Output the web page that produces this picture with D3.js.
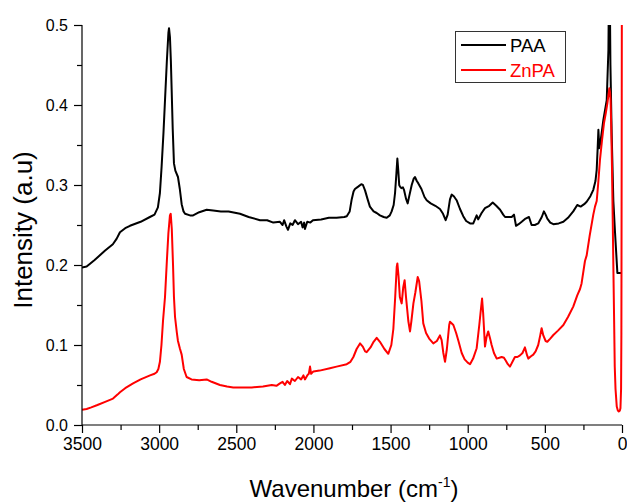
<!DOCTYPE html>
<html>
<head>
<meta charset="utf-8">
<script src="https://cdn.jsdelivr.net/npm/d3@7"></script>
<style>
    body { margin: 0; background: #fff; }
    svg { display: block; font-family: Arial, "Liberation Sans", sans-serif; }
</style>
</head>
<body>
<svg width="627" height="502"></svg>
<script>
//////////////////////   DATA    //////////////////////

var seriesNames = ['PAA', 'ZnPA'];

var paaWn = [3500, 3470, 3420, 3350, 3300, 3275, 3254, 3220, 3189, 3120, 3060, 3030, 3008, 2995, 2984, 2972,
    2962, 2950, 2940, 2936, 2930, 2924, 2919, 2912, 2904, 2895, 2878, 2866, 2854, 2842, 2832, 2800, 2780, 2740,
    2692, 2650, 2600, 2550, 2476, 2420, 2346, 2300, 2260, 2217, 2200, 2190, 2175, 2165, 2150, 2135, 2120, 2100,
    2080, 2070, 2060, 2055, 2040, 2020, 2003, 1950, 1900, 1850, 1800, 1784, 1765, 1752, 1740, 1731, 1710, 1690,
    1679, 1665, 1650, 1634, 1610, 1590, 1569, 1545, 1525, 1505, 1493, 1480, 1471, 1462, 1456, 1450, 1444, 1439,
    1430, 1420, 1413, 1400, 1389, 1378, 1363, 1350, 1342, 1330, 1320, 1300, 1280, 1266, 1240, 1210, 1180, 1160,
    1143, 1130, 1115, 1104, 1090, 1072, 1050, 1029, 1010, 985, 964, 942, 932, 910, 888, 860, 838, 815, 790, 770,
    758, 730, 715, 700, 687, 670, 650, 625, 603, 586, 565, 543, 520, 506, 495, 484, 465, 445, 410, 380, 350, 316,
    290, 268, 245, 229, 205, 186, 172, 164, 158, 153, 147, 138, 121, 99, 88, 84, 80, 75, 67, 56, 45, 30, 8, 3];
var paaVal = [0.197, 0.198, 0.206, 0.218, 0.226, 0.233, 0.241, 0.246, 0.249, 0.254, 0.260, 0.263, 0.272, 0.290,
    0.323, 0.365, 0.406, 0.455, 0.490, 0.496, 0.485, 0.455, 0.420, 0.370, 0.327, 0.318, 0.310, 0.295, 0.276, 0.267,
    0.264, 0.262, 0.262, 0.266, 0.269, 0.268, 0.267, 0.267, 0.264, 0.260, 0.256, 0.256, 0.253, 0.254, 0.250, 0.256,
    0.248, 0.244, 0.252, 0.250, 0.256, 0.251, 0.254, 0.247, 0.253, 0.245, 0.254, 0.253, 0.256, 0.257, 0.259, 0.259,
    0.260, 0.261, 0.267, 0.282, 0.292, 0.295, 0.298, 0.301, 0.300, 0.293, 0.283, 0.273, 0.267, 0.265, 0.262, 0.260,
    0.259, 0.262, 0.267, 0.275, 0.290, 0.315, 0.333, 0.318, 0.300, 0.298, 0.296, 0.297, 0.294, 0.283, 0.277, 0.287,
    0.300, 0.308, 0.310, 0.305, 0.302, 0.295, 0.285, 0.281, 0.277, 0.274, 0.270, 0.264, 0.256, 0.263, 0.282, 0.288,
    0.286, 0.281, 0.270, 0.261, 0.255, 0.252, 0.252, 0.262, 0.257, 0.265, 0.271, 0.274, 0.278, 0.274, 0.269, 0.263,
    0.260, 0.260, 0.260, 0.263, 0.249, 0.251, 0.254, 0.258, 0.260, 0.250, 0.250, 0.252, 0.260, 0.267, 0.263, 0.258,
    0.253, 0.251, 0.252, 0.254, 0.259, 0.267, 0.275, 0.273, 0.276, 0.279, 0.286, 0.294, 0.305, 0.319, 0.345, 0.369,
    0.346, 0.356, 0.381, 0.406, 0.469, 0.56, 0.56, 0.45, 0.365, 0.28, 0.24, 0.190, 0.190, 0.190];

var znpaWn = [3500, 3470, 3440, 3400, 3350, 3299, 3270, 3254, 3220, 3169, 3120, 3059, 3030, 3016, 3005, 2995,
    2985, 2975, 2962, 2950, 2940, 2930, 2925, 2918, 2910, 2904, 2897, 2885, 2878, 2866, 2854, 2840, 2822, 2790,
    2740, 2692, 2660, 2606, 2560, 2520, 2450, 2400, 2327, 2270, 2240, 2217, 2200, 2185, 2170, 2152, 2140, 2120,
    2100, 2080, 2065, 2055, 2040, 2030, 2022, 2015, 2000, 1960, 1893, 1850, 1784, 1760, 1741, 1720, 1698, 1680,
    1665, 1655, 1630, 1610, 1590, 1569, 1540, 1515, 1495, 1482, 1470, 1460, 1456, 1448, 1440, 1428, 1418, 1409,
    1400, 1385, 1374, 1365, 1352, 1340, 1324, 1315, 1300, 1288, 1270, 1250, 1223, 1200, 1180, 1169, 1158, 1147,
    1135, 1120, 1115, 1093, 1075, 1060, 1039, 1020, 1000, 985, 965, 942, 925, 917, 907, 900, 890, 888, 878, 867,
    855, 845, 830, 812, 795, 780, 765, 752, 740, 726, 710, 694, 678, 661, 645, 629, 615, 607, 590, 575, 560, 543,
    530, 521, 510, 495, 484, 465, 445, 415, 380, 350, 316, 290, 272, 262, 240, 229, 210, 186, 175, 164, 155, 143,
    130, 117, 105, 95, 88, 82, 77, 74, 70, 65, 60, 56, 51, 47, 42, 34, 27, 21, 14, 10, 6, 4, 2, 0];
var znpaVal = [0.019, 0.020, 0.022, 0.025, 0.029, 0.033, 0.038, 0.041, 0.046, 0.052, 0.057, 0.062, 0.064, 0.066,
    0.070, 0.079, 0.100, 0.130, 0.160, 0.205, 0.240, 0.262, 0.264, 0.245, 0.200, 0.160, 0.135, 0.115, 0.105, 0.096,
    0.088, 0.070, 0.060, 0.057, 0.056, 0.057, 0.054, 0.050, 0.048, 0.047, 0.047, 0.047, 0.048, 0.050, 0.049, 0.052,
    0.054, 0.050, 0.055, 0.051, 0.058, 0.055, 0.060, 0.057, 0.062, 0.057, 0.062, 0.064, 0.073, 0.064, 0.067, 0.068,
    0.071, 0.073, 0.076, 0.079, 0.085, 0.095, 0.102, 0.098, 0.092, 0.091, 0.097, 0.104, 0.109, 0.104, 0.095, 0.089,
    0.100, 0.120, 0.160, 0.198, 0.202, 0.185, 0.160, 0.152, 0.172, 0.181, 0.160, 0.130, 0.117, 0.130, 0.152, 0.165,
    0.185, 0.180, 0.155, 0.127, 0.115, 0.108, 0.102, 0.105, 0.112, 0.106, 0.090, 0.079, 0.095, 0.125, 0.129, 0.125,
    0.115, 0.105, 0.090, 0.082, 0.078, 0.076, 0.083, 0.096, 0.125, 0.140, 0.158, 0.140, 0.105, 0.098, 0.110, 0.117,
    0.108, 0.100, 0.090, 0.083, 0.084, 0.085, 0.084, 0.080, 0.076, 0.073, 0.079, 0.085, 0.085, 0.087, 0.090, 0.097,
    0.087, 0.083, 0.086, 0.088, 0.092, 0.100, 0.112, 0.121, 0.112, 0.105, 0.104, 0.108, 0.1125, 0.118, 0.125, 0.135,
    0.148, 0.162, 0.170, 0.177, 0.205, 0.212, 0.236, 0.263, 0.273, 0.280, 0.300, 0.331, 0.355, 0.377, 0.390, 0.402,
    0.412, 0.421, 0.415, 0.406, 0.375, 0.323, 0.255, 0.198, 0.130, 0.073, 0.045, 0.023, 0.018, 0.017, 0.018, 0.021,
    0.045, 0.115, 0.35, 0.7];

var xMajorTicks = [3500, 3000, 2500, 2000, 1500, 1000, 500, 0];
var xMinorTicks = [3250, 2750, 2250, 1750, 1250, 750, 250];
var yMajorTicks = [0.0, 0.1, 0.2, 0.3, 0.4, 0.5];
var yMinorTicks = [0.05, 0.15, 0.25, 0.35, 0.45];

var CONFIG = {
    left: 82,
    right: 622,
    top: 25,
    bottom: 425,
    colors: ['#000000', '#ff0000']
};

//////////////////////   DRAWING    //////////////////////

var svg = d3.select('svg');

var x = d3.scaleLinear().domain([3500, 0]).range([CONFIG.left, CONFIG.right]);
var y = d3.scaleLinear().domain([0, 0.5]).range([CONFIG.bottom, CONFIG.top]);

/**
 * @param {number[]} wn
 * @param {number[]} val
 * @returns {Object[]}
 */
function toPoints(wn, val) {
    return wn.map(function (w, i) {
        return {w: w, v: val[i]};
    });
}

var series = [toPoints(paaWn, paaVal), toPoints(znpaWn, znpaVal)];

svg.append('clipPath')
    .attr('id', 'plot-clip')
    .append('rect')
    .attr('x', CONFIG.left)
    .attr('y', CONFIG.top)
    .attr('width', CONFIG.right - CONFIG.left + 3)
    .attr('height', CONFIG.bottom - CONFIG.top + 3);

var line = d3.line()
    .x(function (d) { return x(d.w); })
    .y(function (d) { return y(d.v); });

svg.append('g')
    .attr('clip-path', 'url(#plot-clip)')
    .selectAll('path')
    .data(series)
    .enter()
    .append('path')
    .attr('d', line)
    .style('fill', 'none')
    .style('stroke-width', 2)
    .style('stroke-linejoin', 'round')
    .style('stroke', function (d, i) { return CONFIG.colors[i]; });

// axes: major ticks with labels, minor ones without
var xAxis = svg.append('g')
    .attr('transform', 'translate(0,' + CONFIG.bottom + ')')
    .call(d3.axisBottom(x).tickValues(xMajorTicks).tickSize(8).tickPadding(5).tickFormat(d3.format('d')));
svg.append('g')
    .attr('transform', 'translate(0,' + CONFIG.bottom + ')')
    .call(d3.axisBottom(x).tickValues(xMinorTicks).tickSize(5).tickFormat(''))
    .select('.domain').remove();

var yAxis = svg.append('g')
    .attr('transform', 'translate(' + CONFIG.left + ',0)')
    .call(d3.axisLeft(y).tickValues(yMajorTicks).tickSize(8).tickPadding(6).tickFormat(d3.format('.1f')));
svg.append('g')
    .attr('transform', 'translate(' + CONFIG.left + ',0)')
    .call(d3.axisLeft(y).tickValues(yMinorTicks).tickSize(5).tickFormat(''))
    .select('.domain').remove();

// plain axis lines without the end caps d3 adds
xAxis.select('.domain').attr('d', 'M' + CONFIG.left + ',0H' + CONFIG.right);
yAxis.select('.domain').attr('d', 'M0,' + CONFIG.top + 'V' + CONFIG.bottom);

svg.selectAll('.tick line').style('stroke', '#000').style('stroke-width', 1.2);
svg.selectAll('.domain').style('stroke', '#000').style('stroke-width', 1.2);
xAxis.selectAll('text').style('font-size', '17.5px').style('fill', '#000')
    .style('font-family', 'Arial, "Liberation Sans", sans-serif');
yAxis.selectAll('text').style('font-size', '16px').style('fill', '#000')
    .style('font-family', 'Arial, "Liberation Sans", sans-serif');

// axis titles
var xTitle = svg.append('text')
    .attr('x', 354)
    .attr('y', 497)
    .style('text-anchor', 'middle')
    .style('font-size', '24px');
xTitle.append('tspan').text('Wavenumber (cm');
xTitle.append('tspan').attr('dy', -10).style('font-size', '14px').text('-1');
xTitle.append('tspan').attr('dy', 10).text(')');

svg.append('text')
    .attr('transform', 'translate(32,230) rotate(-90)')
    .style('text-anchor', 'middle')
    .style('font-size', '26px')
    .text('Intensity (a.u)');

// legend
var legend = svg.append('g');
legend.append('rect')
    .attr('x', 455.5)
    .attr('y', 31.5)
    .attr('width', 110)
    .attr('height', 51)
    .style('fill', '#fff')
    .style('stroke', '#333')
    .style('stroke-width', 1);

var items = legend.selectAll('g.item')
    .data(seriesNames)
    .enter()
    .append('g')
    .attr('class', 'item')
    .attr('transform', function (d, i) { return 'translate(0,' + (45 + i * 25) + ')'; });
items.append('line')
    .attr('x1', 461)
    .attr('x2', 506)
    .style('stroke-width', 2)
    .style('stroke', function (d, i) { return CONFIG.colors[i]; });
items.append('text')
    .attr('x', 510)
    .attr('y', 6.7)
    .style('font-size', '18.5px')
    .style('fill', function (d, i) { return CONFIG.colors[i]; })
    .text(function (d) { return d; });
</script>
</body>
</html>
